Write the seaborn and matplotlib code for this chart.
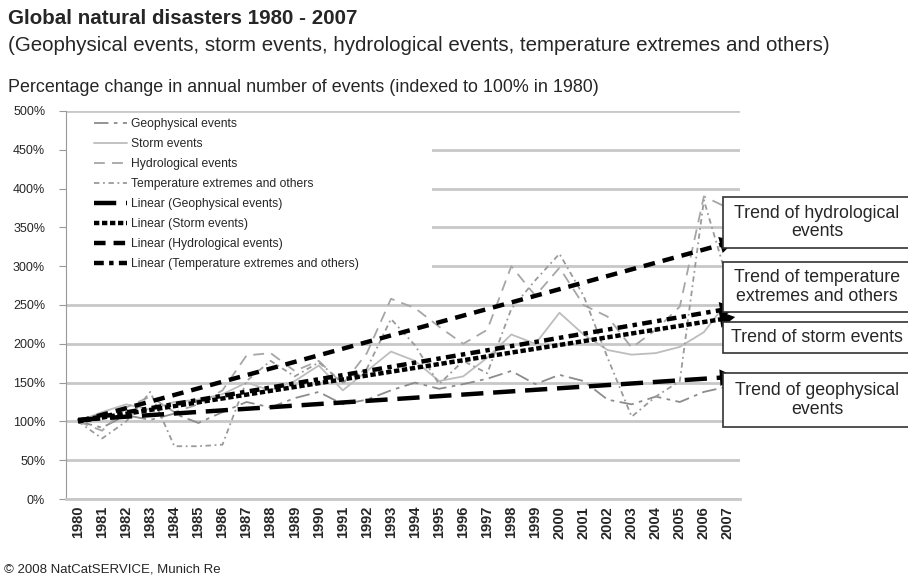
import numpy as np
import pandas as pd
import matplotlib.pyplot as plt
import matplotlib.patches as mpatches
import seaborn as sns

# Data (% of 1980 level)
years = list(range(1980, 2008))
geophysical = [100, 92, 108, 102, 110, 98, 112, 125, 118, 130, 138, 122, 128, 140,
               150, 142, 148, 155, 165, 148, 160, 152, 128, 122, 132, 125, 138, 145]
storm = [100, 112, 122, 115, 125, 128, 135, 150, 140, 152, 172, 140, 165, 190,
         178, 152, 158, 182, 212, 200, 240, 212, 192, 186, 188, 196, 215, 255]
hydrological = [100, 88, 118, 132, 112, 122, 140, 185, 188, 165, 178, 148, 188, 258,
                246, 222, 200, 218, 300, 262, 298, 250, 235, 195, 218, 248, 390, 375]
temperature = [100, 78, 100, 138, 68, 68, 70, 152, 178, 158, 176, 150, 168, 232,
               198, 148, 178, 162, 245, 282, 316, 262, 182, 106, 132, 152, 385, 280]

series_names = ['Geophysical events', 'Storm events', 'Hydrological events',
                'Temperature extremes and others']
trend_names = ['Linear (Geophysical events)', 'Linear (Storm events)',
               'Linear (Hydrological events)', 'Linear (Temperature extremes and others)']
trend_1980 = [102, 100, 100, 101]
trend_2007 = [157, 233, 330, 245]

box_labels = ['Trend of geophysical\nevents', 'Trend of storm events',
              'Trend of hydrological\nevents', 'Trend of temperature\nextremes and others']

y_ticks = [0, 50, 100, 150, 200, 250, 300, 350, 400, 450, 500]

# Styles
series_colors = ['#8c8c8c', '#bdbdbd', '#a6a6a6', '#9a9a9a']
series_dashes = [(8, 3, 2, 3), None, (6, 4), (3, 2, 1, 2)]
trend_dashes = [(5, 2.2), (1.2, 0.6), (2.6, 1.8), (2.2, 1.2, 1, 1.2)]

sns.set_style('white')
plt.rcParams['font.family'] = ['Liberation Sans', 'DejaVu Sans']

df = pd.DataFrame({'year': years * 4,
                   'value': geophysical + storm + hydrological + temperature,
                   'series': sum([[n] * len(years) for n in series_names], [])})

fig = plt.figure(figsize=(9.08, 5.76), dpi=100)
W, H = 908, 576
ax = fig.add_axes([66 / W, 1 - 499 / H, (740 - 66) / W, (499 - 111) / H])

# data series (thin gray)
for name, col, dsh in zip(series_names, series_colors, series_dashes):
    sub = df[df['series'] == name]
    sns.lineplot(data=sub, x='year', y='value', ax=ax, color=col, lw=1.3,
                 label=name, legend=False)
    if dsh is not None:
        ax.lines[-1].set_dashes(dsh)

# linear trends (heavy black)
for name, a, b, dsh in zip(trend_names, trend_1980, trend_2007, trend_dashes):
    sns.lineplot(x=[years[0], years[-1]], y=[a, b], ax=ax, color='black', lw=3.2,
                 label=name, legend=False)
    ax.lines[-1].set_dashes(dsh)
    ax.lines[-1].set_dash_capstyle('butt')

# arrowheads pointing into the boxes
for a, b in zip(trend_1980, trend_2007):
    slope = (b - a) / (years[-1] - years[0])
    x0, x1 = 2006.2, 2007.3
    ax.annotate('', xy=(x1, a + slope * (x1 - 1980)), xytext=(x0, a + slope * (x0 - 1980)),
                arrowprops=dict(arrowstyle='-|>,head_length=1.1,head_width=0.6',
                                color='black', lw=0, shrinkA=0, shrinkB=0),
                zorder=20, annotation_clip=False)

ax.set_xlim(1979.5, 2007.5)
ax.set_ylim(0, 500)
ax.set_xticks(years)
ax.set_xticklabels([str(y) for y in years], rotation=90, fontsize=10.5, fontweight='bold')
ax.set_yticks(y_ticks)
ax.set_yticklabels([f'{v}%' for v in y_ticks], fontsize=9)
ax.set_xlabel('')
ax.set_ylabel('')
ax.grid(axis='y', color='#c8c8c8', lw=2)
ax.set_axisbelow(True)
for s in ['top', 'right']:
    ax.spines[s].set_visible(False)
ax.spines['left'].set_color('#999999')
ax.spines['bottom'].set_color('#c8c8c8')
ax.spines['bottom'].set_linewidth(2)
ax.tick_params(axis='y', length=5, color='#999999', left=True, pad=10)
ax.tick_params(axis='x', length=0, pad=5)

# white area behind the legend (covers the gridlines)
ax.add_patch(mpatches.Rectangle((67 / W, 1 - 273 / H), (432 - 67) / W, (273 - 113) / H,
                                transform=fig.transFigure, facecolor='white',
                                edgecolor='none', zorder=1.5))

leg = ax.legend(loc='upper left', bbox_to_anchor=(94 / W, 1 - 118 / H),
                bbox_transform=fig.transFigure, fontsize=8.7, frameon=False,
                handlelength=2.7, labelspacing=0.66, handletextpad=0.4,
                borderpad=0, borderaxespad=0)
leg.set_zorder(10)

# annotation boxes at the right
box_rows = [(373, 427), (322, 353), (197, 248), (262, 312)]
for label, (top, bot) in zip(box_labels, box_rows):
    rect = mpatches.Rectangle((723 / W, 1 - bot / H), (915 - 723) / W, (bot - top) / H,
                              transform=fig.transFigure, facecolor='white',
                              edgecolor='#333333', lw=1.2, zorder=15)
    fig.patches.append(rect)
    fig.text(817 / W, 1 - (top + bot) / 2 / H, label, ha='center', va='center',
             fontsize=12.8, linespacing=1.1, zorder=16)

# titles and footer
fig.text(8 / W, 1 - 24 / H, 'Global natural disasters 1980 - 2007', fontsize=14.8,
         fontweight='bold', va='baseline')
fig.text(8 / W, 1 - 51 / H,
         '(Geophysical events, storm events, hydrological events, temperature extremes and others)',
         fontsize=14.8, va='baseline')
fig.text(8 / W, 1 - 92 / H,
         'Percentage change in annual number of events (indexed to 100% in 1980)',
         fontsize=12.9, va='baseline')
fig.text(4 / W, 1 - 572 / H, '\u00a9 2008 NatCatSERVICE, Munich Re', fontsize=9.5,
         va='baseline')

fig.savefig('out.png', dpi=100)
